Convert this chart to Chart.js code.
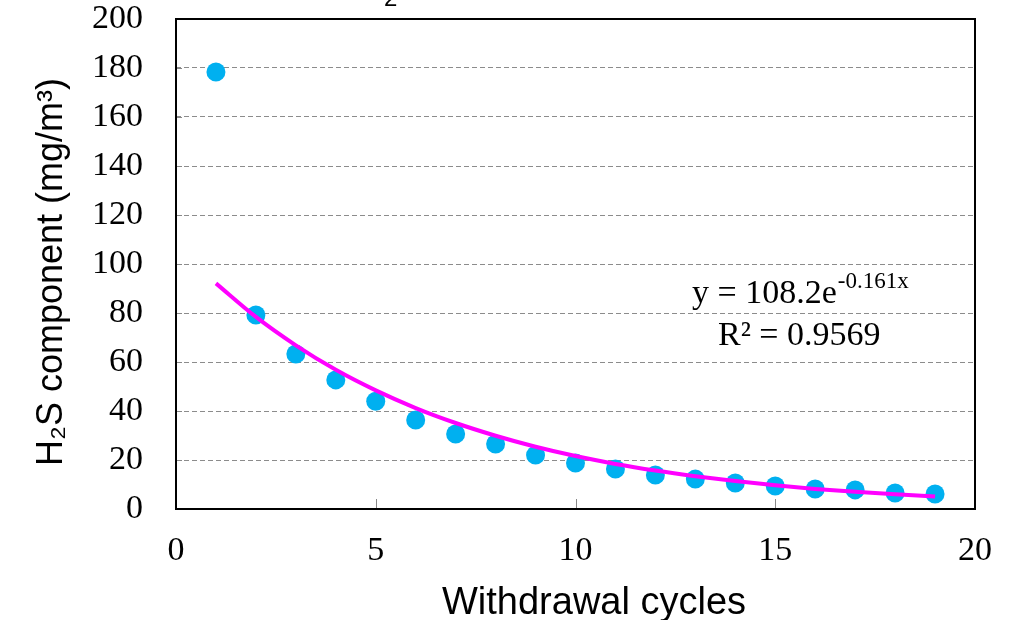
<!DOCTYPE html>
<html>
<head>
<meta charset="utf-8">
<script src="https://cdn.jsdelivr.net/npm/chart.js@4.4.1/dist/chart.umd.min.js"></script>
<style>
  html, body { margin: 0; padding: 0; background: #fff; }
  #wrap { width: 1025px; height: 620px; }
</style>
</head>
<body>
<div id="wrap"><canvas id="chart"></canvas></div>
<script>
// Measured H2S values per withdrawal cycle
const cycles = [1, 2, 3, 4, 5, 6, 7, 8, 9, 10, 11, 12, 13, 14, 15, 16, 17, 18, 19];
const h2s = [178.4, 79.2, 63.3, 52.7, 44.0, 36.3, 30.6, 26.5, 22.0, 18.8, 16.3, 13.9, 12.2, 10.6, 9.4, 8.2, 7.8, 6.5, 6.1];
// Exponential trendline
const fitValues = [92.1, 78.4, 66.8, 56.8, 48.4, 41.2, 35.1, 29.9, 25.4, 21.6, 18.4, 15.7, 13.4, 11.4, 9.7, 8.2, 7.0, 6.0, 5.1];
const yTicks = [0, 20, 40, 60, 80, 100, 120, 140, 160, 180, 200];
const xTicks = [0, 5, 10, 15, 20];

const serif = '"Liberation Serif", "Times New Roman", serif';
const sans = '"Liberation Sans", Arial, sans-serif';

// box, inner tick marks, axis titles and the equation text
const extras = {
    id: 'extras',
    afterDatasetsDraw(chart) {
        const { ctx, chartArea: a, scales } = chart;
        ctx.save();
        ctx.strokeStyle = '#888';
        ctx.lineWidth = 1;
        xTicks.slice(1, -1).forEach(v => {
            const px = Math.round(scales.x.getPixelForValue(v)) + 0.5;
            ctx.beginPath();
            ctx.moveTo(px, a.bottom);
            ctx.lineTo(px, a.bottom - 10);
            ctx.stroke();
        });
        yTicks.slice(1, -1).forEach(v => {
            const py = Math.round(scales.y.getPixelForValue(v)) + 0.5;
            ctx.beginPath();
            ctx.moveTo(a.left, py);
            ctx.lineTo(a.left + 6, py);
            ctx.stroke();
        });
        ctx.strokeStyle = '#000';
        ctx.lineWidth = 2;
        ctx.strokeRect(a.left, a.top, a.right - a.left, a.bottom - a.top);

        ctx.fillStyle = '#000';
        ctx.textBaseline = 'alphabetic';
        ctx.textAlign = 'left';
        ctx.font = '34px ' + serif;
        const eq = 'y = 108.2e';
        ctx.fillText(eq, 692, 303);
        const w = ctx.measureText(eq).width;
        ctx.font = '23px ' + serif;
        ctx.fillText('-0.161x', 692 + w + 1, 288);
        ctx.font = '34px ' + serif;
        ctx.fillText('R² = 0.9569', 718, 345);

        // axis titles
        ctx.font = '38px ' + sans;
        ctx.textAlign = 'center';
        ctx.fillText('Withdrawal cycles', 594, 614);
        ctx.save();
        ctx.translate(62, 272);
        ctx.rotate(-Math.PI / 2);
        ctx.font = '36px ' + sans;
        ctx.fillText('H₂S component (mg/m³)', 0, 0);
        ctx.restore();

        // bottom of a clipped title above the chart
        ctx.textAlign = 'left';
        ctx.font = '24px ' + sans;
        ctx.fillText('2', 384, 6);
        ctx.restore();
    }
};

new Chart(document.getElementById('chart'), {
    type: 'scatter',
    data: {
        datasets: [
            {
                label: 'Fit',
                data: cycles.map((c, i) => ({ x: c, y: fitValues[i] })),
                showLine: true,
                borderColor: '#FF00FF',
                borderWidth: 4,
                pointRadius: 0,
                tension: 0.4,
                cubicInterpolationMode: 'monotone'
            },
            {
                label: 'H2S',
                data: cycles.map((c, i) => ({ x: c, y: h2s[i] })),
                backgroundColor: '#00B0F0',
                borderColor: '#00B0F0',
                pointRadius: 9.5,
                pointBorderWidth: 0
            }
        ]
    },
    plugins: [extras],
    options: {
        responsive: true,
        maintainAspectRatio: false,
        animation: false,
        layout: { padding: { top: 19, right: 50, left: 0, bottom: 0 } },
        plugins: {
            legend: { display: false },
            tooltip: { enabled: false }
        },
        scales: {
            x: {
                type: 'linear',
                min: 0,
                max: 20,
                afterBuildTicks: s => { s.ticks = xTicks.map(v => ({ value: v })); },
                afterFit: s => { s.height = 111; s.paddingLeft = 0; s.paddingRight = 0; },
                grid: { display: false, drawTicks: false },
                border: { display: false },
                ticks: {
                    color: '#000',
                    padding: 22,
                    font: { family: serif, size: 34 }
                }
            },
            y: {
                min: 0,
                max: 200,
                afterBuildTicks: s => { s.ticks = yTicks.map(v => ({ value: v })); },
                afterFit: s => { s.width = 176; s.paddingTop = 0; s.paddingBottom = 0; },
                grid: {
                    color: '#8c8c8c',
                    lineWidth: 1,
                    drawTicks: false
                },
                border: { display: false, dash: [5, 3] },
                ticks: {
                    color: '#000',
                    padding: 33,
                    font: { family: serif, size: 34 }
                }
            }
        }
    }
});
</script>
</body>
</html>
